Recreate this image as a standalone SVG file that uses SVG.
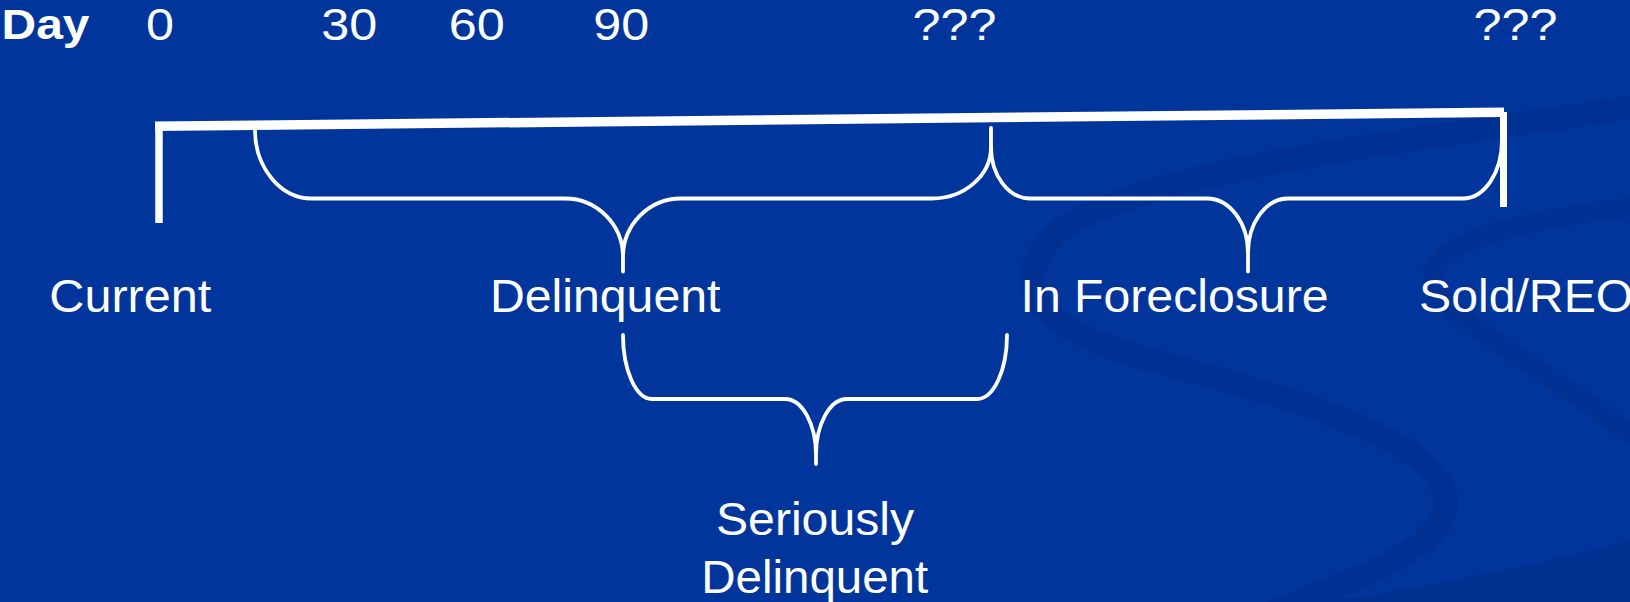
<svg xmlns="http://www.w3.org/2000/svg" width="1630" height="602" viewBox="0 0 1630 602">
  <style>
    .t { font-family: "Liberation Sans", Arial, sans-serif; fill: #ffffff; }
    .lbl { font-size: 46px; }
    .num { font-size: 45px; }
    .day { font-size: 42px; font-weight: bold; }
    .brace { fill: none; stroke: #ffffff; stroke-width: 3.8; stroke-linecap: round; stroke-linejoin: round; }
    .bar { fill: none; stroke: #ffffff; stroke-linecap: butt; }
    .swoosh { fill: none; stroke: #00308F; stroke-linecap: butt; }
  </style>
  <rect x="0" y="0" width="1630" height="602" fill="#00369C"/>
  <g id="background">
    <path class="swoosh" stroke-width="24" opacity="0.75" d="M 1640,106 C 1420,140 1130,170 1055,235 C 1010,280 1025,325 1150,360 C 1300,400 1440,440 1446,500 C 1450,545 1360,580 1270,612"/>
    <path class="swoosh" stroke-width="20" opacity="0.65" d="M 1640,206 C 1520,220 1440,240 1432,275 C 1425,305 1500,340 1640,440"/>
    <path d="M 1330,602 C 1430,585 1540,565 1630,540 L 1630,602 Z" fill="#00308F" opacity="0.85"/>
  </g>
  <g id="timeline-header">
    <text class="t day" x="1.5" y="38.5" textLength="88" lengthAdjust="spacingAndGlyphs">Day</text>
    <text class="t num" x="146" y="40" textLength="28" lengthAdjust="spacingAndGlyphs">0</text>
    <text class="t num" x="321.2" y="40" textLength="56" lengthAdjust="spacingAndGlyphs">30</text>
    <text class="t num" x="448.8" y="40" textLength="56" lengthAdjust="spacingAndGlyphs">60</text>
    <text class="t num" x="593.2" y="40" textLength="56" lengthAdjust="spacingAndGlyphs">90</text>
    <text class="t num" x="912.5" y="40" textLength="84" lengthAdjust="spacingAndGlyphs">???</text>
    <text class="t num" x="1473.5" y="40" textLength="84" lengthAdjust="spacingAndGlyphs">???</text>
  </g>
  <g id="connectors">
    <path id="brace-delinquent" class="brace" d="M 255,130 C 255,167.8 280.5,198.5 312,198.5 L 565,198.5 C 597,198.5 623,224.7 623,257 L 623,271.5 M 623,257 C 623,224.7 649,198.5 681,198.5 L 932,198.5 C 964.6,198.5 991,175.4 991,147 L 991,128"/>
    <path id="brace-foreclosure" class="brace" d="M 991,147 C 991,175.4 1008.5,198.5 1030,198.5 L 1207,198.5 C 1229.6,198.5 1248,222.9 1248,253 L 1248,271.5 M 1248,253 C 1248,222.9 1265.9,198.5 1288,198.5 L 1463,198.5 C 1484.5,198.5 1502,172.3 1502,140 L 1502,120"/>
    <path id="brace-serious" class="brace" d="M 623,335 C 623,370.3 636,399 652,399 L 785,399 C 802.1,399 816,424 816,455 L 816,464 M 816,455 C 816,424 829.9,399 847,399 L 977,399 C 993.6,399 1007,370.3 1007,335"/>
    <path id="bracket-top" class="bar" stroke-width="9.5" d="M 155,126.3 L 1504,112.3"/>
    <path id="bracket-left" class="bar" stroke-width="7.5" d="M 159,124 L 159,223"/>
    <path id="bracket-right" class="bar" stroke-width="7" d="M 1503.5,112 L 1503.5,207"/>
  </g>
  <g id="node-current"><text class="t lbl" x="49.3" y="312" textLength="162" lengthAdjust="spacingAndGlyphs">Current</text></g>
  <g id="node-delinquent"><text class="t lbl" x="490" y="312" textLength="230.4" lengthAdjust="spacingAndGlyphs">Delinquent</text></g>
  <g id="node-foreclosure"><text class="t lbl" x="1020.5" y="312" textLength="308" lengthAdjust="spacingAndGlyphs">In Foreclosure</text></g>
  <g id="node-sold"><text class="t lbl" x="1419" y="312" textLength="214.3" lengthAdjust="spacingAndGlyphs">Sold/REO</text></g>
  <g id="node-seriously-delinquent">
    <text class="t lbl" x="716" y="535" textLength="198" lengthAdjust="spacingAndGlyphs">Seriously</text>
    <text class="t lbl" x="701.2" y="593" textLength="227" lengthAdjust="spacingAndGlyphs">Delinquent</text>
  </g>
</svg>
